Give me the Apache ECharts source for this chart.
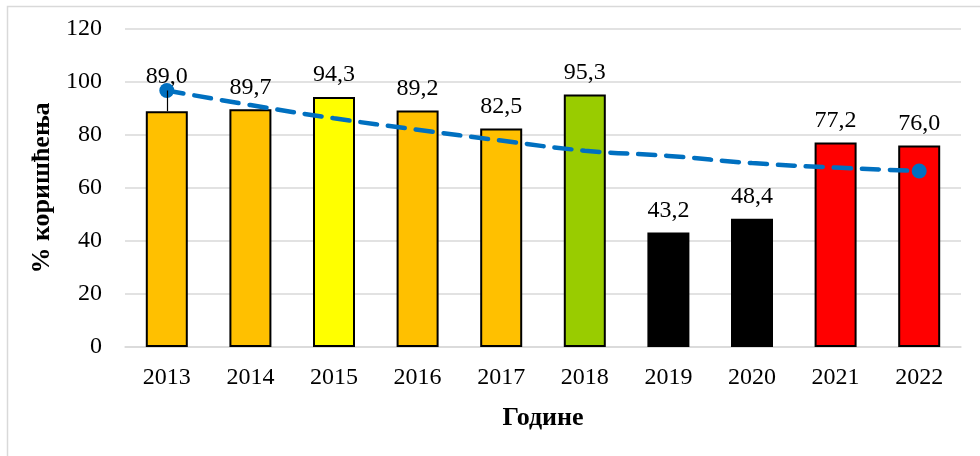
<!DOCTYPE html>
<html>
<head>
<meta charset="utf-8">
<script src="https://cdn.jsdelivr.net/npm/echarts@6/dist/echarts.min.js"></script>
<style>html,body{margin:0;padding:0;background:#fff;}#c{width:980px;height:456px;}</style>
</head>
<body>
<div id="c"></div>
<script>
const years = ['2013','2014','2015','2016','2017','2018','2019','2020','2021','2022'];
const values = [89.0, 89.7, 94.3, 89.2, 82.5, 95.3, 43.2, 48.4, 77.2, 76.0];
const barColors = ['#FFC000','#FFC000','#FFFF00','#FFC000','#FFC000','#99CC00','#000000','#000000','#FF0000','#FF0000'];
const trend = [96.8, 91.3, 86.3, 82.0, 77.9, 74.1, 72.1, 69.4, 67.7, 66.4];
const yTicks = [0, 20, 40, 60, 80, 100, 120];
const yTitle = '% коришћења';
const xTitle = 'Године';

const font = 'Liberation Serif';
const chart = echarts.init(document.getElementById('c'));
chart.setOption({
  animation: false,
  graphic: [{type:'rect', shape:{x:7.5,y:6.5,width:1000,height:500}, style:{fill:'none', stroke:'#d9d9d9', lineWidth:1.5}}],
  grid: {left:125, right:19, top:29, bottom:109},
  xAxis: {
    type:'category', data: years,
    axisTick:{show:false},
    axisLine:{lineStyle:{color:'#d9d9d9', width:1.5}},
    axisLabel:{color:'#000', fontFamily:font, fontSize:24, margin:19},
    name: xTitle, nameLocation:'middle', nameGap:58,
    nameTextStyle:{color:'#000', fontFamily:font, fontSize:26, fontWeight:'bold'}
  },
  yAxis: {
    type:'value', min:yTicks[0], max:yTicks[yTicks.length-1], interval:20,
    axisLine:{show:false}, axisTick:{show:false},
    splitLine:{lineStyle:{color:'#d9d9d9', width:1.5}},
    axisLabel:{color:'#000', fontFamily:font, fontSize:24, margin:23},
    name: yTitle, nameLocation:'middle', nameGap:61, nameRotate:90,
    nameTextStyle:{color:'#000', fontFamily:font, fontSize:26, fontWeight:'bold'}
  },
  series: [
    {
      type:'bar', barWidth:42,
      data: values.map((v,i)=>({value:v, itemStyle:{color:barColors[i]}, label: i===0 ? {distance:22} : undefined})),
      itemStyle:{borderColor:'#000', borderWidth:2},
      label:{show:true, position:'top', distance:10, color:'#000', fontFamily:font, fontSize:24,
        formatter: p => p.value.toFixed(1).replace('.', ',')},
      z:2
    },
    {
      type:'line', data: trend, smooth:true,
      symbol:'circle',
      symbolSize:(v,p)=> (p.dataIndex===0 || p.dataIndex===trend.length-1) ? 15 : 0,
      itemStyle:{color:'#0070C0'},
      lineStyle:{color:'#0070C0', width:4.5, type:[17,11], cap:'round'},
      z:3,
      markLine:{
        silent:true, symbol:'none', label:{show:false},
        lineStyle:{color:'#000', width:1.2, type:'solid'},
        data:[[{coord:[0, values[0]]},{coord:[0, trend[0]]}]]
      }
    }
  ]
});
</script>
</body>
</html>
